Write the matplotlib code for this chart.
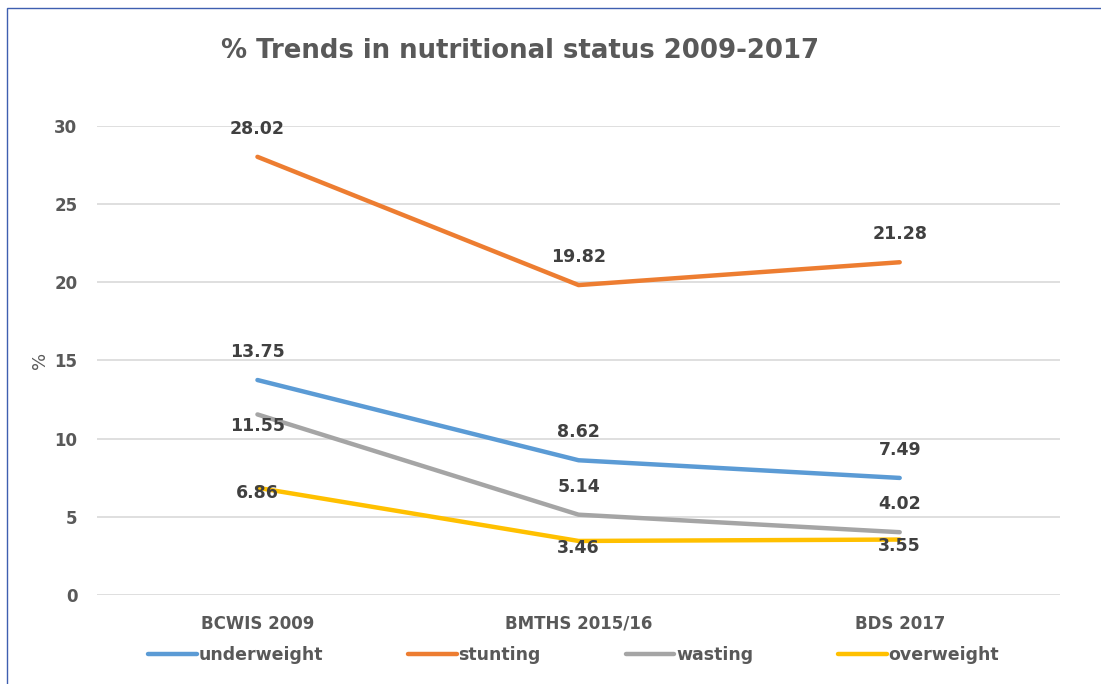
import numpy as np
import matplotlib.pyplot as plt
from matplotlib.patches import Rectangle

surveys = ['BCWIS 2009', 'BMTHS 2015/16', 'BDS 2017']
underweight = [13.75, 8.62, 7.49]
stunting = [28.02, 19.82, 21.28]
wasting = [11.55, 5.14, 4.02]
overweight = [6.86, 3.46, 3.55]

series = [
    ('underweight', underweight, '#5B9BD5', [20, 20, 20]),
    ('stunting', stunting, '#ED7D31', [20, 20, 20]),
    ('wasting', wasting, '#A5A5A5', [-8, 20, 20]),
    ('overweight', overweight, '#FFC000', [-4, -5, -5]),
]

plt.rcParams['font.family'] = ['DejaVu Sans']

fig = plt.figure(figsize=(11.01, 6.84), dpi=100)
ax = fig.add_axes([0.088, 0.130, 0.875, 0.686])

x = np.arange(len(surveys))
for name, vals, col, offs in series:
    ax.plot(x, vals, color=col, lw=3.2, solid_capstyle='round', label=name)
    for xi, v, o in zip(x, vals, offs):
        ax.annotate(f'{v:.2f}', (xi, v), xytext=(0, o), textcoords='offset points',
                    ha='center', va='center', fontsize=12.5, fontweight='bold',
                    color='#404040')

ax.set_xlim(-0.5, 2.5)
ax.set_ylim(0, 30)
ax.set_yticks(range(0, 31, 5))
ax.set_xticks(x)
ax.set_xticklabels(surveys)
ax.grid(axis='y', color='#D9D9D9', lw=1.2)
ax.set_axisbelow(True)
for s in ax.spines.values():
    s.set_visible(False)
ax.tick_params(length=0, labelsize=12, labelcolor='#595959', pad=14)
for lab in ax.get_xticklabels() + ax.get_yticklabels():
    lab.set_fontweight('bold')
ax.set_ylabel('%', fontsize=13, color='#595959', labelpad=4)

fig.text(0.472, 0.926, '% Trends in nutritional status 2009-2017', ha='center', va='center',
         fontsize=18.7, fontweight='bold', color='#595959')

leg = ax.legend(loc='upper center', bbox_to_anchor=(0.495, -0.075), ncol=4, frameon=False,
                fontsize=12.5, handlelength=2.8, handletextpad=0.1, columnspacing=4.9)
for t in leg.get_texts():
    t.set_color('#595959')
    t.set_fontweight('bold')

fig.patches.append(Rectangle((7 / 1101, -0.1), 1.2, 1 - 8 / 684 + 0.1,
                             transform=fig.transFigure, fill=False,
                             edgecolor='#3F5FB0', lw=1))

fig.savefig('out.png', dpi=100)
